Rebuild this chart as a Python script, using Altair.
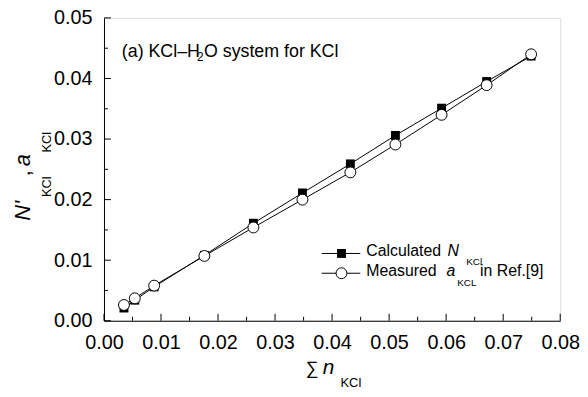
import altair as alt
import pandas as pd

# ---- data ----
sum_n = [0.0035, 0.0054, 0.0088, 0.0176, 0.0262, 0.0348, 0.0432, 0.0511, 0.0592, 0.0671, 0.0749]
calc_N = [0.0021, 0.0034, 0.0056, 0.0108, 0.0161, 0.0211, 0.0259, 0.0306, 0.0351, 0.0395, 0.0437]
meas_a = [0.0026, 0.0037, 0.0058, 0.0107, 0.0154, 0.0200, 0.0245, 0.0291, 0.0340, 0.0389, 0.0440]

x_major = [0.00, 0.01, 0.02, 0.03, 0.04, 0.05, 0.06, 0.07, 0.08]
x_minor = [0.005, 0.015, 0.025, 0.035, 0.045, 0.055, 0.065, 0.075]
y_major = [0.00, 0.01, 0.02, 0.03, 0.04, 0.05]
y_minor = [0.005, 0.015, 0.025, 0.035, 0.045]

W, H = 461, 306
FONT = "Liberation Sans"

df = pd.DataFrame({"n": sum_n, "N": calc_N, "a": meas_a})

xs = alt.Scale(domain=[0, 0.08], nice=False, zero=False)
ys = alt.Scale(domain=[0, 0.05], nice=False, zero=False)

xax = alt.Axis(values=x_major, format=".2f", ticks=False, grid=False, labelFontSize=20,
               labelFont=FONT, labelColor="black", labelPadding=12, labelFlush=False,
               labelOverlap=False, domainColor="black", title=None)
yax = alt.Axis(values=y_major, format=".2f", ticks=False, grid=False, labelFontSize=20,
               labelFont=FONT, labelColor="black", labelPadding=12, labelFlush=False,
               labelOverlap=False, domainColor="black", title=None)

base = alt.Chart(df)
calc_line = base.mark_line(color="black", strokeWidth=1).encode(
    x=alt.X("n:Q", scale=xs, axis=xax), y=alt.Y("N:Q", scale=ys, axis=yax))
calc_pts = base.mark_point(shape="square", filled=True, color="black", size=81, opacity=1).encode(
    x=alt.X("n:Q", scale=xs), y=alt.Y("N:Q", scale=ys))
meas_line = base.mark_line(color="black", strokeWidth=1).encode(
    x=alt.X("n:Q", scale=xs), y=alt.Y("a:Q", scale=ys))
meas_pts = base.mark_point(shape="circle", filled=True, fill="white", stroke="black",
                           strokeWidth=1, size=121, opacity=1).encode(
    x=alt.X("n:Q", scale=xs), y=alt.Y("a:Q", scale=ys))

def xticks(vals, length):
    return alt.Chart(pd.DataFrame({"v": vals})).mark_rule(color="black", strokeWidth=1).encode(
        x=alt.X("v:Q", scale=xs), y=alt.value(H), y2=alt.value(H - length))

def yticks(vals, length):
    return alt.Chart(pd.DataFrame({"v": vals})).mark_rule(color="black", strokeWidth=1).encode(
        y=alt.Y("v:Q", scale=ys), x=alt.value(0), x2=alt.value(length))

one = pd.DataFrame({"k": [0]})

def txt(s, x, y, size, italic=False, angle=0, baseline="alphabetic"):
    kw = dict(text=s, font=FONT, fontSize=size, color="black", align="left", baseline=baseline)
    if italic:
        kw["fontStyle"] = "italic"
    if angle:
        kw["angle"] = angle
    return alt.Chart(one).mark_text(**kw).encode(x=alt.value(x), y=alt.value(y))

texts = [
    # annotation
    txt("(a) KCl\u2013H", 18, 39, 18),
    txt("2", 94, 44, 12),
    txt("O system for KCl", 101, 39, 18),
    # x title
    txt("\u2211", 204, 360, 18),
    txt("n", 221, 360, 21, italic=True),
    txt("KCl", 239, 373, 13),
    # y title (rotated)
    txt("N'", -75, 205, 22, italic=True, angle=270),
    txt("KCl", -54, 181, 13, angle=270),
    txt(",", -75, 160, 22, angle=270),
    txt("a", -75, 150, 22, italic=True, angle=270),
    txt("KCl", -54, 136, 13, angle=270),
    # legend text
    txt("Calculated", 265, 241, 16),
    txt("N", 347, 241, 16, italic=True),
    txt("KCl", 366, 250, 10),
    txt("Measured", 265, 261, 16),
    txt("a", 346, 261, 16, italic=True),
    txt("KCL", 357, 271, 10),
    txt("in Ref.[9]", 380, 261, 16),
]

leg_lines = [
    alt.Chart(one).mark_rule(color="black", strokeWidth=1).encode(
        x=alt.value(220), x2=alt.value(259), y=alt.value(238)),
    alt.Chart(one).mark_rule(color="black", strokeWidth=1).encode(
        x=alt.value(220), x2=alt.value(259), y=alt.value(258)),
]
leg_pts = [
    alt.Chart(one).mark_point(shape="square", filled=True, color="black", size=81, opacity=1).encode(
        x=alt.value(240), y=alt.value(238)),
    alt.Chart(one).mark_point(shape="circle", filled=True, fill="white", stroke="black",
                              strokeWidth=1, size=121, opacity=1).encode(
        x=alt.value(240), y=alt.value(258)),
]

chart = alt.layer(
    calc_line, calc_pts, meas_line, meas_pts,
    xticks(x_major, 7), xticks(x_minor, 4), yticks(y_major, 7), yticks(y_minor, 4),
    *leg_lines, *leg_pts, *texts,
).properties(
    width=W, height=H,
    autosize=alt.AutoSizeParams(type="none"),
    padding={"left": 97, "top": 8, "right": 20, "bottom": 73},
).configure_view(stroke="black", strokeWidth=1).configure(background="white")

chart.save("out.html", embed_options={"renderer": "svg", "actions": False})
